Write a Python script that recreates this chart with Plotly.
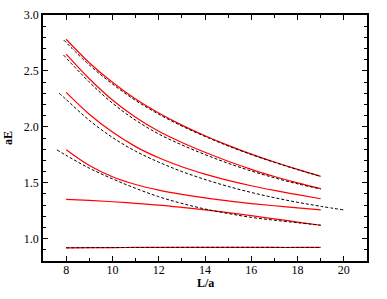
import plotly.graph_objects as go

# Red solid curves (x from 8 to 19)
x_red = [8, 9, 10, 11, 12, 13, 14, 15, 16, 17, 18, 19]
red1 = [2.783, 2.573, 2.398, 2.248, 2.123, 2.015, 1.92, 1.834, 1.756, 1.685, 1.619, 1.557]
red2 = [2.65, 2.43, 2.24, 2.085, 1.96, 1.86, 1.772, 1.692, 1.62, 1.556, 1.498, 1.447]
red3 = [2.308, 2.113, 1.953, 1.823, 1.723, 1.643, 1.577, 1.521, 1.473, 1.431, 1.393, 1.357]
red4 = [1.794, 1.654, 1.554, 1.484, 1.434, 1.396, 1.364, 1.337, 1.314, 1.294, 1.275, 1.257]
red5 = [1.352, 1.342, 1.33, 1.316, 1.30, 1.28, 1.258, 1.233, 1.205, 1.177, 1.148, 1.12]
red6 = [0.918, 0.919, 0.92, 0.921, 0.921, 0.922, 0.922, 0.922, 0.922, 0.921, 0.921, 0.921]

# Black dashed curves
x_d1 = [7.9, 9, 10, 11, 12, 13, 14, 15, 16, 17, 18, 19]
d1 = [2.775, 2.553, 2.383, 2.236, 2.113, 2.007, 1.914, 1.829, 1.752, 1.682, 1.617, 1.557]
x_d2 = [7.89, 9, 10, 11, 12, 13, 14, 15, 16, 17, 18, 19]
d2 = [2.641, 2.40, 2.212, 2.059, 1.936, 1.838, 1.752, 1.674, 1.605, 1.544, 1.49, 1.444]
x_d3 = [7.7, 8, 9, 10, 11, 12, 13, 14, 15, 16, 17, 18, 19, 20]
d3 = [2.30, 2.245, 2.058, 1.905, 1.782, 1.684, 1.60, 1.529, 1.467, 1.413, 1.366, 1.325, 1.289, 1.257]
x_d4 = [7.6, 8, 9, 10, 11, 12, 13, 14, 15, 16, 17, 18, 19]
d4 = [1.794, 1.745, 1.63, 1.535, 1.45, 1.375, 1.315, 1.265, 1.225, 1.19, 1.165, 1.142, 1.12]
x_d6 = [8, 10, 12, 14, 16, 18, 19]
d6 = [0.918, 0.92, 0.921, 0.922, 0.922, 0.921, 0.921]

y_ticks = [1.0, 1.5, 2.0, 2.5, 3.0]
y_tick_labels = ["1.0", "1.5", "2.0", "2.5", "3.0"]
x_ticks = [8, 10, 12, 14, 16, 18, 20]

fig = go.Figure()
for y in [red1, red2, red3, red4, red5, red6]:
    fig.add_trace(go.Scatter(x=x_red, y=y, mode="lines", line=dict(color="#ff0000", width=1.2, shape="spline"), showlegend=False))
for x, y in [(x_d1, d1), (x_d2, d2), (x_d3, d3), (x_d4, d4), (x_d6, d6)]:
    fig.add_trace(go.Scatter(x=x, y=y, mode="lines", line=dict(color="black", width=1, dash="3px,2px", shape="spline"), showlegend=False))

font = dict(family="Liberation Serif, Times New Roman, serif", size=12, color="black")
title_font = dict(family="Liberation Serif, Times New Roman, serif", size=12, color="black")
axis_common = dict(showgrid=False, zeroline=False, showline=True, linecolor="black", linewidth=1.5,
                   mirror="allticks", ticks="inside", ticklen=5, tickwidth=1, tickcolor="black",
                   tickfont=font, automargin=False)
fig.update_xaxes(range=[7, 21], tickvals=x_ticks, minor=dict(dtick=1, ticks="inside", ticklen=3, tickcolor="black"),
                 ticklabelstandoff=-3, **axis_common)
fig.update_yaxes(range=[0.8, 3.0], tickvals=y_ticks, ticktext=y_tick_labels,
                 minor=dict(tick0=0.8, dtick=0.1, ticks="inside", ticklen=3, tickcolor="black"),
                 **axis_common)
fig.add_annotation(text="<b>L/a</b>", xref="paper", yref="paper", x=0.503, y=-0.09,
                   xanchor="center", yanchor="middle", showarrow=False, font=title_font)
fig.add_annotation(text="<b>aE</b>", xref="paper", yref="paper", x=-0.108, y=0.5, textangle=-90,
                   xanchor="center", yanchor="middle", showarrow=False, font=title_font)
fig.update_layout(width=387, height=299, margin=dict(l=43, r=20, t=15, b=38),
                  plot_bgcolor="white", paper_bgcolor="white", font=font)
fig.write_html("out.html", config={"displayModeBar": False},
               post_script="document.body.style.margin='0';")
